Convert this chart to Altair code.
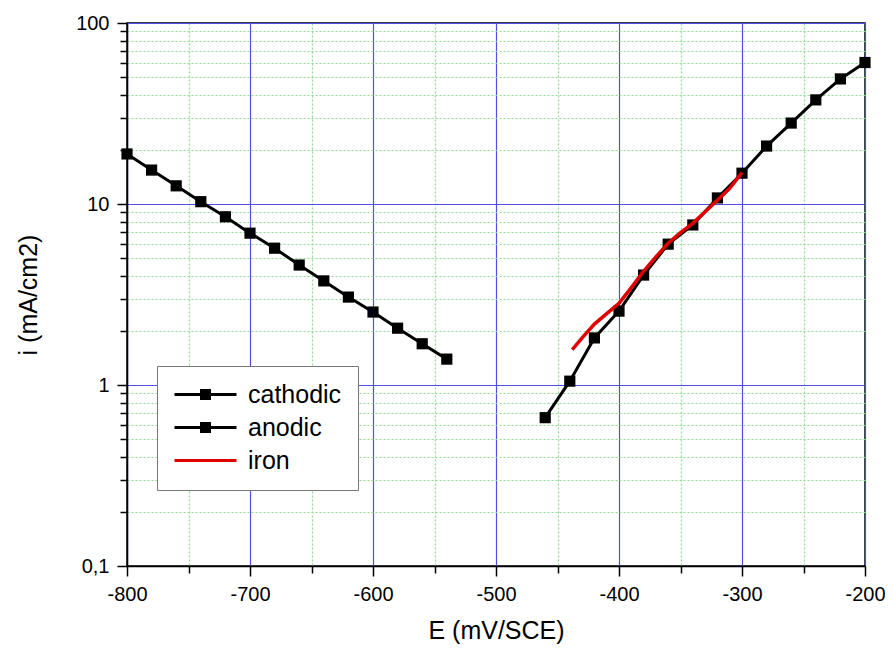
import altair as alt
import pandas as pd

# ---- data ----
cath_E = [-800, -780, -760, -740, -720, -700, -680, -660, -640, -620, -600, -580, -560, -540]
cath_i = [18.9, 15.4, 12.6, 10.3, 8.5, 6.9, 5.7, 4.6, 3.76, 3.06, 2.53, 2.06, 1.69, 1.39]

anod_E = [-460, -440, -420, -400, -380, -360, -340, -320, -300, -280, -260, -240, -220, -200]
anod_i = [0.66, 1.05, 1.82, 2.56, 4.05, 6.0, 7.66, 10.8, 14.8, 20.9, 28.0, 37.6, 49.1, 60.5]

iron_E = [-438, -430, -420, -410, -400, -390, -380, -370, -360, -350, -340, -330, -320, -310, -300]
iron_i = [1.57, 1.82, 2.17, 2.48, 2.83, 3.45, 4.25, 5.1, 6.07, 6.95, 7.82, 9.07, 10.5, 12.2, 14.9]

series_names = ["cathodic", "anodic", "iron"]
x_ticks = list(range(-800, -199, 50))
y_decades = [0.1, 1, 10, 100]
y_ticks = sorted({round(d * m, 6) for d in y_decades[:-1] for m in range(1, 10)} | {y_decades[-1]})

df = pd.concat([
    pd.DataFrame({"E": cath_E, "i": cath_i, "series": "cathodic"}),
    pd.DataFrame({"E": anod_E, "i": anod_i, "series": "anodic"}),
    pd.DataFrame({"E": iron_E, "i": iron_i, "series": "iron"}),
], ignore_index=True)

FONT = "Liberation Sans"
BLUE = "#4f4fe8"
GREEN = "#8fdc8f"

is_major_x = "datum.value % 100 === 0"
is_major_y = "abs(log(datum.value)/LN10 - round(log(datum.value)/LN10)) < 0.000001"

x_enc = alt.X("E:Q",
              scale=alt.Scale(domain=[-800, -200], nice=False, zero=False),
              axis=alt.Axis(
                  title="E (mV/SCE)", values=x_ticks,
                  labelExpr=f"({is_major_x}) ? ('' + datum.value) : ''",
                  labelFlush=False, labelOverlap=False,
                  tickSize={"condition": {"test": is_major_x, "value": 10}, "value": 7},
                  gridColor={"condition": {"test": is_major_x, "value": BLUE}, "value": GREEN},
                  gridDash={"condition": {"test": is_major_x, "value": []}, "value": [2, 2]},
                  gridWidth=1.2,
                  labelPadding=8, titlePadding=14,
              ))
y_enc = alt.Y("i:Q",
              scale=alt.Scale(type="log", domain=[0.1, 100], nice=False),
              axis=alt.Axis(
                  title="i (mA/cm2)", values=y_ticks,
                  labelExpr=f"({is_major_y}) ? (datum.value < 0.5 ? '0,1' : ('' + round(datum.value))) : ''",
                  labelFlush=False, labelOverlap=False,
                  tickSize={"condition": {"test": is_major_y, "value": 10}, "value": 7},
                  gridColor={"condition": {"test": is_major_y, "value": BLUE}, "value": GREEN},
                  gridDash={"condition": {"test": is_major_y, "value": []}, "value": [2, 2]},
                  gridWidth=1.2,
                  labelPadding=8, titlePadding=34,
              ))

base = alt.Chart(df)

def series_layer(name, color, width, points):
    line = base.transform_filter(alt.datum.series == name).mark_line(
        color=color, strokeWidth=width).encode(x=x_enc, y=y_enc)
    if not points:
        return line
    pts = base.transform_filter(alt.datum.series == name).mark_point(
        shape="square", filled=True, size=125, color=color, opacity=1).encode(x=x_enc, y=y_enc)
    return line + pts

cath = series_layer("cathodic", "black", 3, True)
anod = series_layer("anodic", "black", 3, True)
iron = series_layer("iron", "#e00000", 3.5, False)

line_sq = "M-3.1,0H3.1M-0.4,-0.4H0.4V0.4H-0.4Z"
line_only = "M-3.1,0H3.1"
legend = alt.Legend(
    title=None, orient="none", legendX=30, legendY=343,
    fillColor="white", strokeColor="#777777", padding=16, cornerRadius=0,
    labelFont=FONT, labelFontSize=25, labelColor="black",
    symbolSize=400, symbolStrokeWidth=3, symbolOffset=20, labelOffset=30,
    rowPadding=7,
)
leg_layer = base.transform_filter("false").mark_point(filled=True, strokeWidth=3, opacity=1).encode(
    x=x_enc, y=y_enc,
    shape=alt.Shape("series:N", scale=alt.Scale(domain=series_names, range=[line_sq, line_sq, line_only]), legend=legend),
    fill=alt.Fill("series:N", scale=alt.Scale(domain=series_names, range=["black", "black", "#e00000"]), legend=legend),
    stroke=alt.Stroke("series:N", scale=alt.Scale(domain=series_names, range=["black", "black", "#e00000"]), legend=legend),
)

chart = alt.layer(cath, anod, iron, leg_layer).properties(
    width=738, height=543,
    autosize=alt.AutoSizeParams(type="none"),
    padding={"left": 119, "top": 15, "right": 20, "bottom": 78},
    background="white",
).configure_view(stroke="black", strokeWidth=1.5).configure_axis(
    labelFont=FONT, labelFontSize=20, labelColor="black",
    titleFont=FONT, titleFontSize=25, titleFontWeight="normal", titleColor="black",
    domainColor="black", domainWidth=1.5, tickColor="black", tickWidth=1.5,
)

chart.save("out.html", embed_options={"renderer": "svg", "actions": False})
